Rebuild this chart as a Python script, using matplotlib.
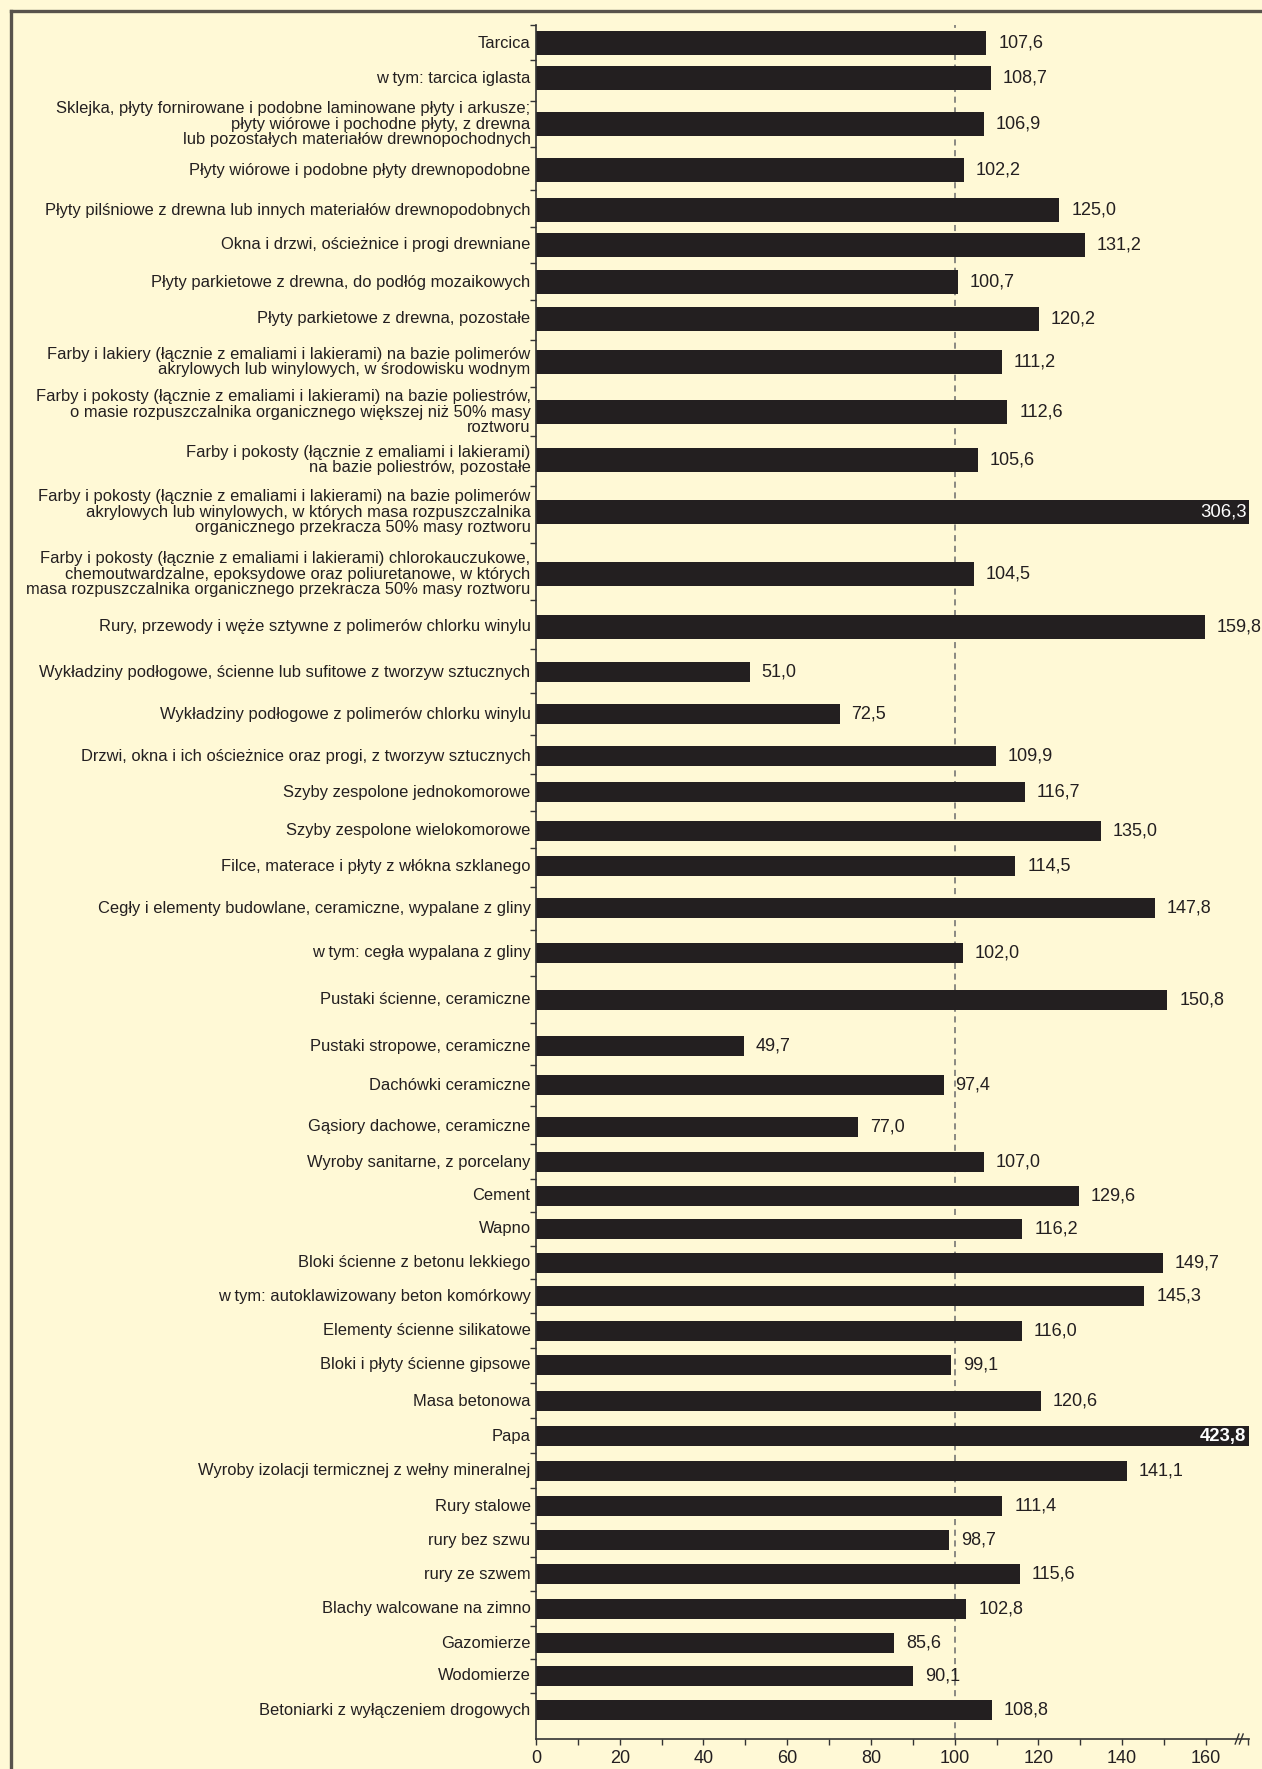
import matplotlib
matplotlib.use("Agg")
import matplotlib.pyplot as plt
from matplotlib.ticker import MultipleLocator
from matplotlib.transforms import blended_transform_factory

plt.rcParams['font.family'] = ['Liberation Sans', 'DejaVu Sans']

categories = [
    "Tarcica",
    "w tym: tarcica iglasta",
    "Sklejka, płyty fornirowane i podobne laminowane płyty i arkusze;\npłyty wiórowe i pochodne płyty, z drewna\nlub pozostałych materiałów drewnopochodnych",
    "Płyty wiórowe i podobne płyty drewnopodobne",
    "Płyty pilśniowe z drewna lub innych materiałów drewnopodobnych",
    "Okna i drzwi, ościeżnice i progi drewniane",
    "Płyty parkietowe z drewna, do podłóg mozaikowych",
    "Płyty parkietowe z drewna, pozostałe",
    "Farby i lakiery (łącznie z emaliami i lakierami) na bazie polimerów\nakrylowych lub winylowych, w środowisku wodnym",
    "Farby i pokosty (łącznie z emaliami i lakierami) na bazie poliestrów,\no masie rozpuszczalnika organicznego większej niż 50% masy\nroztworu",
    "Farby i pokosty (łącznie z emaliami i lakierami)\nna bazie poliestrów, pozostałe",
    "Farby i pokosty (łącznie z emaliami i lakierami) na bazie polimerów\nakrylowych lub winylowych, w których masa rozpuszczalnika\norganicznego przekracza 50% masy roztworu",
    "Farby i pokosty (łącznie z emaliami i lakierami) chlorokauczukowe,\nchemoutwardzalne, epoksydowe oraz poliuretanowe, w których\nmasa rozpuszczalnika organicznego przekracza 50% masy roztworu",
    "Rury, przewody i węże sztywne z polimerów chlorku winylu",
    "Wykładziny podłogowe, ścienne lub sufitowe z tworzyw sztucznych",
    "Wykładziny podłogowe z polimerów chlorku winylu",
    "Drzwi, okna i ich ościeżnice oraz progi, z tworzyw sztucznych",
    "Szyby zespolone jednokomorowe",
    "Szyby zespolone wielokomorowe",
    "Filce, materace i płyty z włókna szklanego",
    "Cegły i elementy budowlane, ceramiczne, wypalane z gliny",
    "w tym: cegła wypalana z gliny",
    "Pustaki ścienne, ceramiczne",
    "Pustaki stropowe, ceramiczne",
    "Dachówki ceramiczne",
    "Gąsiory dachowe, ceramiczne",
    "Wyroby sanitarne, z porcelany",
    "Cement",
    "Wapno",
    "Bloki ścienne z betonu lekkiego",
    "w tym: autoklawizowany beton komórkowy",
    "Elementy ścienne silikatowe",
    "Bloki i płyty ścienne gipsowe",
    "Masa betonowa",
    "Papa",
    "Wyroby izolacji termicznej z wełny mineralnej",
    "Rury stalowe",
    "rury bez szwu",
    "rury ze szwem",
    "Blachy walcowane na zimno",
    "Gazomierze",
    "Wodomierze",
    "Betoniarki z wyłączeniem drogowych",
]

values = [107.6, 108.7, 106.9, 102.2, 125.0, 131.2, 100.7, 120.2, 111.2, 112.6,
          105.6, 306.3, 104.5, 159.8, 51.0, 72.5, 109.9, 116.7, 135.0, 114.5,
          147.8, 102.0, 150.8, 49.7, 97.4, 77.0, 107.0, 129.6, 116.2, 149.7,
          145.3, 116.0, 99.1, 120.6, 423.8, 141.1, 111.4, 98.7, 115.6, 102.8,
          85.6, 90.1, 108.8]

# layout: row centres (irregular spacing as in the original), y runs downwards
row_y = [43, 78, 124, 170, 210, 245, 282, 319, 362, 412, 460, 512, 574, 627,
         672, 714, 756, 792, 831, 866, 908, 953, 1000, 1046, 1085, 1127, 1162,
         1196, 1229, 1263, 1296, 1331, 1365, 1401, 1436, 1471, 1506, 1540,
         1574, 1609, 1643, 1676, 1710]
y_top, y_bottom = 25, 1739
x_max = 170.3

bg = '#FFF9D6'
bar_col = '#231F20'
txt_col = '#231F20'

W, H = 1262, 1769
fig = plt.figure(figsize=(W / 100, H / 100), dpi=100, facecolor=bg)

# frame (left + top)
fig.add_artist(plt.Line2D([11 / W, 11 / W], [0, 1 - 11 / H], color='#58534C', lw=2.4))
fig.add_artist(plt.Line2D([11 / W, 1], [1 - 11 / H, 1 - 11 / H], color='#58534C', lw=2.4))

ax = fig.add_axes([536 / W, 1 - y_bottom / H, (1249 - 536) / W, (y_bottom - y_top) / H])
ax.set_facecolor(bg)
ax.set_xlim(0, x_max)
ax.set_ylim(y_bottom, y_top)

heights = [24 if i < 14 else 20 for i in range(len(values))]
ax.barh(row_y, values, height=heights, color=bar_col, zorder=2)

ax.axvline(100, color='#6b6b6b', lw=1.1, ls=(0, (4, 3)), zorder=1)

for y, v, lab in zip(row_y, values, categories):
    ax.text(-1.3, y, lab, ha='right', va='center', fontsize=11.9, color=txt_col,
            linespacing=1.08, multialignment='right', clip_on=False)
    s = f"{v:.1f}".replace('.', ',')
    if v > x_max:
        ax.text(x_max - 0.6, y, s, ha='right', va='center', fontsize=13.3, color='white',
                fontweight='bold' if v > 400 else 'normal', zorder=3)
    else:
        ax.annotate(s, (v, y), xytext=(8.5, 0), textcoords='offset points',
                    ha='left', va='center', fontsize=13, color=txt_col)

# spines / ticks
for side in ['top', 'right']:
    ax.spines[side].set_visible(False)
ax.spines['left'].set_color('#333333')
ax.spines['bottom'].set_color('#333333')
ax.spines['left'].set_linewidth(1.2)
ax.spines['bottom'].set_linewidth(1.2)

bounds = [y_top] + [(a + b) / 2 for a, b in zip(row_y[:-1], row_y[1:])]
ax.set_yticks(bounds)
ax.set_yticklabels([])
ax.tick_params(axis='y', length=4, width=1, color='#333333')

ax.xaxis.set_major_locator(MultipleLocator(20))
ax.xaxis.set_minor_locator(MultipleLocator(10))
ax.set_xticks(range(0, 161, 20))
ax.tick_params(axis='x', which='both', length=4.5, width=1, color='#333333',
               labelsize=13, labelcolor=txt_col, pad=3.5)

# axis break mark: two short slashes across the axis line
trans = blended_transform_factory(ax.transData, ax.transAxes)
dy = 5 / (y_bottom - y_top)
for x0 in (167.0, 168.0):
    ax.plot([x0, x0 + 0.9], [-dy, dy], transform=trans, color='#333333', lw=1,
            clip_on=False, zorder=4)

fig.savefig('out.png', dpi=100, facecolor=bg)
